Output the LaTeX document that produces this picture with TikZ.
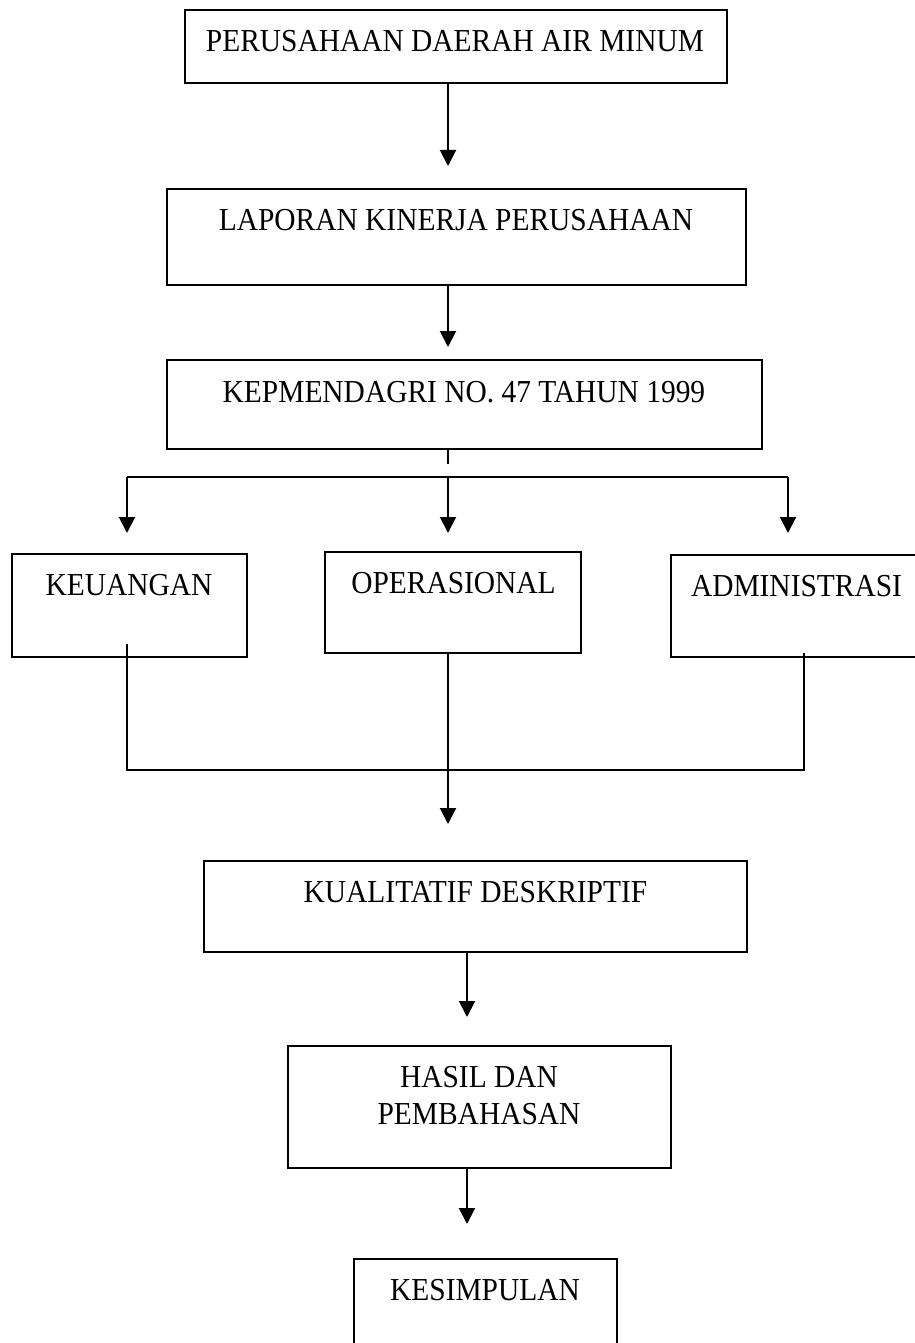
\documentclass[tikz,border=0pt]{standalone}
\usepackage{fontspec}
\setmainfont{Liberation Serif}[FakeStretch=0.92]
\usetikzlibrary{arrows.meta}
\begin{document}
\begin{tikzpicture}[x=1pt,y=-1pt,
  box/.style={draw, line width=2.2pt, inner sep=0pt},
  lbl/.style={anchor=base, inner sep=0pt, font=\fontsize{32}{37}\selectfont},
  link/.style={line width=2pt},
  arr/.style={link, -{Triangle[width=16pt,length=16pt]}}]
\path[use as bounding box, fill=white] (0,0) rectangle (914,1343);

% boxes
\node[box, minimum width=542pt, minimum height=73pt] (b1) at (456,46.5) {};
\node[box, minimum width=579pt, minimum height=96pt] (b2) at (456.5,237) {};
\node[box, minimum width=595pt, minimum height=89pt] (b3) at (464.5,404.5) {};
\node[box, minimum width=235pt, minimum height=103pt] (keu) at (129.5,605.5) {};
\node[box, minimum width=256pt, minimum height=101pt] (ops) at (453,602.5) {};
\node[box, minimum width=247pt, minimum height=102pt] (adm) at (794.5,606) {};
\node[box, minimum width=543pt, minimum height=91pt] (kd) at (475.5,906.5) {};
\node[box, minimum width=383pt, minimum height=122pt] (hp) at (479.5,1107) {};
\node[box, minimum width=263pt, minimum height=100pt] (ks) at (485.5,1309) {};

% texts
\node[lbl] (t1) at (455,52) {PERUSAHAAN DAERAH AIR MINUM};
\node[lbl] (t2) at (456,230) {LAPORAN KINERJA PERUSAHAAN};
\node[lbl] (t3) at (464,402) {KEPMENDAGRI NO. 47 TAHUN 1999};
\node[lbl] (tkeu) at (129,595) {KEUANGAN};
\node[lbl] (tops) at (453.5,593) {OPERASIONAL};
\node[lbl] (tadm) at (796.5,596) {ADMINISTRASI};
\node[lbl] (tkd) at (475.5,902) {KUALITATIF DESKRIPTIF};
\node[lbl] (thp1) at (479,1087) {HASIL DAN};
\node[lbl] (thp2) at (479,1124) {PEMBAHASAN};
\node[lbl] (tks) at (485,1300) {KESIMPULAN};

% coordinates
\coordinate (a1) at (448,166);
\coordinate (a2) at (448,347);
\coordinate (s3) at (448,464);
\coordinate (hl) at (127,477);
\coordinate (hm) at (448,477);
\coordinate (hr) at (788,477);
\coordinate (ak) at (127,533);
\coordinate (ao) at (448,533);
\coordinate (aa) at (788,533);
\coordinate (kin) at (127,644);
\coordinate (ain) at (804,653);
\coordinate (bl) at (127,770);
\coordinate (br) at (804,770);
\coordinate (am) at (448,824);
\coordinate (a5) at (467,1017);
\coordinate (a6) at (467,1224);

% connectors
\draw[arr] (b1.south -| a1) -- (a1);
\draw[arr] (b2.south -| a2) -- (a2);
\draw[link] (b3.south -| s3) -- (s3);
\draw[link] (hl) -- (hr);
\draw[arr] (hl) -- (ak);
\draw[arr] (hm) -- (ao);
\draw[arr] (hr) -- (aa);
\draw[link] (kin) -- (bl) -- (br) -- (ain);
\draw[arr] (ops.south -| am) -- (am);
\draw[arr] (kd.south -| a5) -- (a5);
\draw[arr] (hp.south -| a6) -- (a6);
\end{tikzpicture}
\end{document}
